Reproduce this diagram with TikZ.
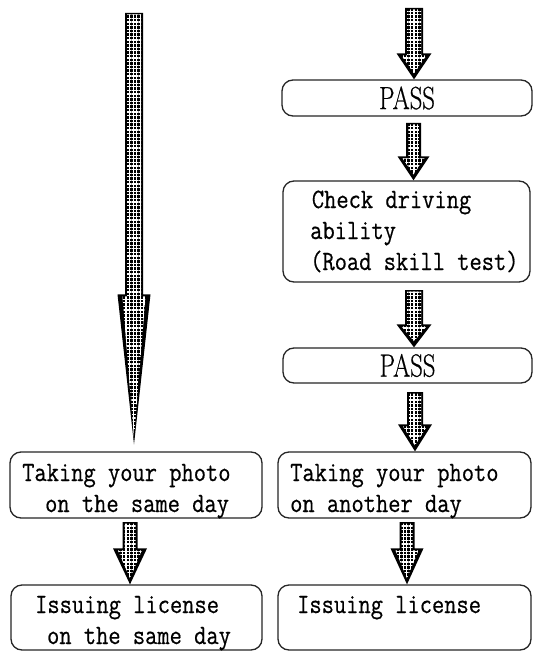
\documentclass[tikz,border=0pt]{standalone}
\usepackage{fontspec}
\setmonofont{Latin Modern Mono}[FakeBold=0.6]
\newfontfamily\passfont{Latin Modern Roman}[FakeBold=0.6]
\usepackage{graphicx}
\usetikzlibrary{calc,patterns.meta}
\tikzset{
  box/.style={draw=black!85, line width=1.3pt, rounded corners=11pt, inner sep=0pt},
  txt/.style={inner sep=0pt, anchor=base west, font=\ttfamily\fontsize{28}{31}\selectfont},
  passtxt/.style={inner sep=0pt, font=\passfont\fontsize{32}{32}\selectfont},
}
\newcommand\mytxt[1]{\scalebox{0.85}[1]{\begin{tabular}[t]{@{}l@{}}#1\end{tabular}}}
\newcommand\password{\scalebox{0.77}[1]{PASS}}
% #1 start, #2 tip, #3 head length, #4 shaft half width, #5 head half width
\newcommand\fatarrow[5]{%
  \fill[black] let \p1=(#1), \p2=(#2) in
    (\x1-#4,\y1) -- (\x1+#4,\y1) -- (\x1+#4,\y2+#3) -- (\x1+#5,\y2+#3) -- (\x1,\y2)
    -- (\x1-#5,\y2+#3) -- (\x1-#4,\y2+#3) -- cycle;
  \fill[pattern={Lines[angle=0,distance=3.6pt,line width=1.1pt]}, pattern color=white]
    let \p1=(#1), \p2=(#2) in
    (\x1-#4+2pt,\y1-1.5pt) -- (\x1+#4-2pt,\y1-1.5pt) -- (\x1+#4-2pt,\y2+#3-2pt)
    -- (\x1+#5-5pt,\y2+#3-2pt) -- (\x1,\y2+6pt) -- (\x1-#5+5pt,\y2+#3-2pt)
    -- (\x1-#4+2pt,\y2+#3-2pt) -- cycle;
  \fill[pattern={Lines[angle=90,distance=3.6pt,line width=1.1pt]}, pattern color=white]
    let \p1=(#1), \p2=(#2) in
    (\x1-#4+2pt,\y1-1.5pt) -- (\x1+#4-2pt,\y1-1.5pt) -- (\x1+#4-2pt,\y2+#3-2pt)
    -- (\x1+#5-5pt,\y2+#3-2pt) -- (\x1,\y2+6pt) -- (\x1-#5+5pt,\y2+#3-2pt)
    -- (\x1-#4+2pt,\y2+#3-2pt) -- cycle;
}
\begin{document}
\begin{tikzpicture}[x=1pt,y=-1pt]
\useasboundingbox[fill=white] (0,0) rectangle (534,652);

% boxes
\node[box, minimum width=250pt, minimum height=36pt] (p1) at (407,98) {};
\node[box, minimum width=247pt, minimum height=101pt] (ck) at (406.5,231.5) {};
\node[box, minimum width=249pt, minimum height=35pt] (p2) at (407.5,365.5) {};
\node[box, minimum width=252pt, minimum height=66pt] (l1) at (136,485) {};
\node[box, minimum width=253pt, minimum height=66pt] (r1) at (404.5,485) {};
\node[box, minimum width=251pt, minimum height=65pt] (l2) at (136.5,617.5) {};
\node[box, minimum width=253pt, minimum height=65pt] (r2) at (404.5,617.5) {};

% texts
\node[passtxt] (t-p1) at (407,98) {\password};
\node[passtxt] (t-p2) at (407.5,365.5) {\password};
\node[txt] (t-ck) at (310,208) {\mytxt{\hspace*{2pt}Check driving\\ability\\(Road skill test)}};
\node[txt] (t-l1) at (22,481) {\mytxt{Taking your photo\\\hspace*{27pt}on the same day}};
\node[txt] (t-r1) at (290,481) {\mytxt{Taking your photo\\on another day}};
\node[txt] (t-l2) at (35,613) {\mytxt{Issuing license\\\hspace*{14pt}on the same day}};
\node[txt] (t-r2) at (297,613) {\mytxt{Issuing license}};

% arrow start points
\coordinate (s0) at (414,8);
\coordinate (s1) at (413.5,123);
\coordinate (s2) at (414,290);
\coordinate (s3) at (415,392);
\coordinate (sb) at (134,13);
\coordinate (s4) at (130,522);
\coordinate (s5) at (407,522);

% arrows
\fatarrow{s0}{s0 |- p1.north}{26pt}{9pt}{17.5pt}
\fatarrow{s1}{s1 |- ck.north}{24pt}{7.5pt}{16pt}
\fatarrow{s2}{s2 |- p2.north}{23pt}{9pt}{17.5pt}
\fatarrow{s3}{s3 |- r1.north}{27pt}{8pt}{17pt}
\fatarrow{sb}{$(sb |- l1.north)+(0,-7)$}{150pt}{9pt}{16.5pt}
\fatarrow{s4}{s4 |- l2.north}{36pt}{7.5pt}{17pt}
\fatarrow{s5}{s5 |- r2.north}{36pt}{7.5pt}{16.5pt}
\end{tikzpicture}
\end{document}
